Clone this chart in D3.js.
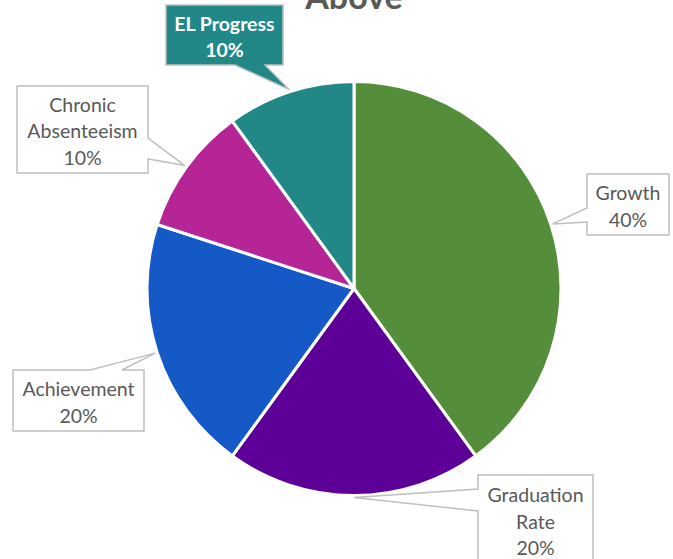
<!DOCTYPE html>
<html><head><meta charset="utf-8">
<script src="https://cdn.jsdelivr.net/npm/d3@7"></script>
<style>body{margin:0;background:#fff}svg{display:block}</style>
</head><body>
<svg id="c" width="673" height="559"></svg>
<script>
const categories = ["Growth", "Graduation Rate", "Achievement", "Chronic Absenteeism", "EL Progress"];
const values = [40, 20, 20, 10, 10];
const labelLines = [["Growth","40%"],["Graduation","Rate","20%"],["Achievement","20%"],["Chronic","Absenteeism","10%"],["EL Progress","10%"]];
const colors = ["#548E3A", "#5C0097", "#1559C6", "#B52596", "#218887"];
const title = "Above";

const svg = d3.select("#c");
const cx = 354, cy = 288.5, R = 207;
const font = "Lato, 'Open Sans', sans-serif";

svg.append("text").attr("x", 354).attr("y", 9).attr("text-anchor","middle")
  .attr("font-family", font).attr("font-weight", "bold").attr("font-size", 34)
  .attr("fill", "#595959").text(title);

const pie = d3.pie().sort(null).value(d => d)(values);
const arc = d3.arc().innerRadius(0).outerRadius(R);
const g = svg.append("g").attr("transform", `translate(${cx},${cy})`);
g.selectAll("path").data(pie).join("path")
  .attr("d", arc).attr("fill", (d,i) => colors[i])
  .attr("stroke", "#fff").attr("stroke-width", 3).attr("stroke-linejoin","round");

// callout layout: box [x,y,w,h], pointer side and base range
const layout = [
  {box:[587,174,82,61], side:"left", a:208, b:222},
  {box:[478,475,115,90], side:"left", a:489, b:511},
  {box:[13,370,131,61], side:"top", a:90, b:122},
  {box:[17,86,131,87], side:"right", a:138, b:159},
  {box:[166,5,117,60], side:"bottom", a:235, b:265}
];

pie.forEach((d, i) => {
  const mid = (d.startAngle + d.endAngle) / 2;
  const tr = R * 1.01;
  const tx = cx + tr * Math.sin(mid), ty = cy - tr * Math.cos(mid);
  const L = layout[i];
  const [x, y, w, h] = L.box;
  const p = d3.path();
  p.moveTo(x, y);
  if (L.side === "top") { p.lineTo(L.a, y); p.lineTo(tx, ty); p.lineTo(L.b, y); }
  p.lineTo(x + w, y);
  if (L.side === "right") { p.lineTo(x + w, L.a); p.lineTo(tx, ty); p.lineTo(x + w, L.b); }
  p.lineTo(x + w, y + h);
  if (L.side === "bottom") { p.lineTo(L.b, y + h); p.lineTo(tx, ty); p.lineTo(L.a, y + h); }
  p.lineTo(x, y + h);
  if (L.side === "left") { p.lineTo(x, L.b); p.lineTo(tx, ty); p.lineTo(x, L.a); }
  p.closePath();
  const isEL = i === 4;
  svg.append("path").attr("d", p.toString())
    .attr("fill", isEL ? colors[i] : "#fff")
    .attr("stroke", "#BFBFBF").attr("stroke-width", 1.5);
  const lines = labelLines[i];
  const lh = 26.5;
  const startY = y + h / 2 - (lines.length - 1) * lh / 2 + 2;
  const t = svg.append("text").attr("text-anchor", "middle")
    .attr("font-family", font).attr("font-size", 19.5)
    .attr("font-weight", isEL ? "bold" : "normal")
    .attr("fill", isEL ? "#fff" : "#595959");
  lines.forEach((s, k) => {
    t.append("tspan").attr("x", x + w / 2).attr("y", startY + k * lh)
      .attr("dy", "0.35em").text(s);
  });
});
</script>
</body></html>
